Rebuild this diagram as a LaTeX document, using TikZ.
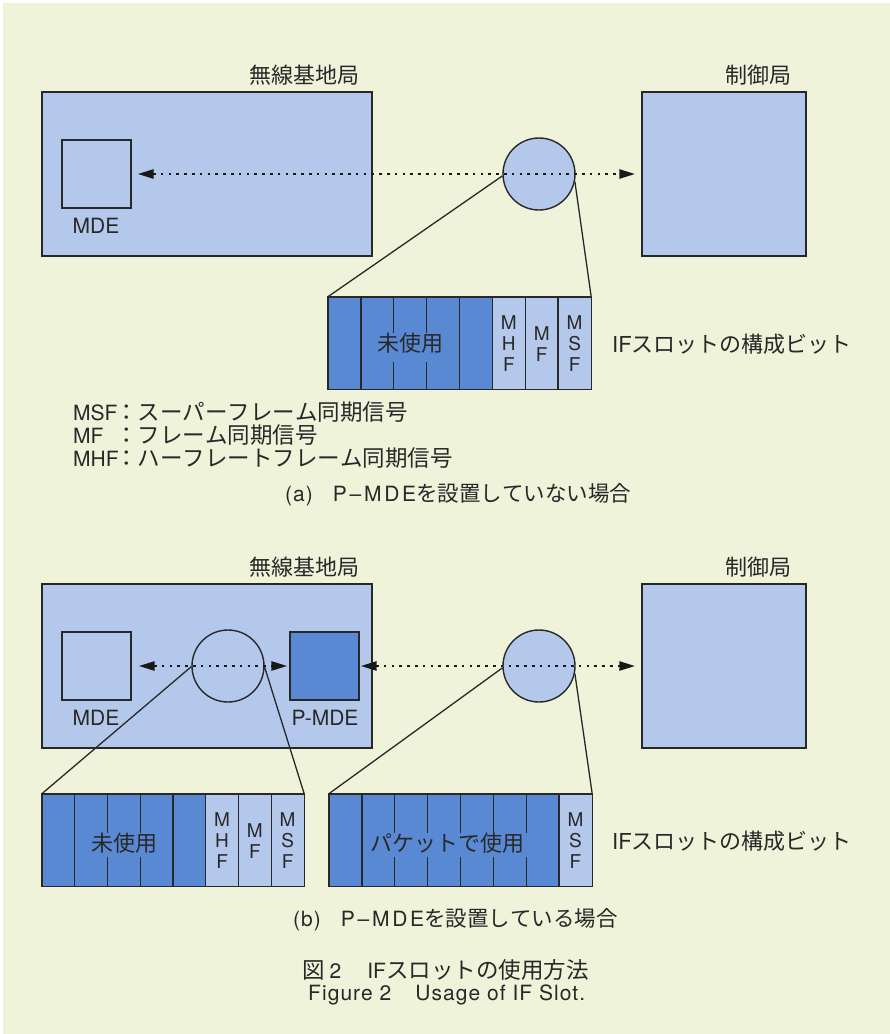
\documentclass[tikz,border=0pt]{standalone}
\usepackage{fontspec}
\setmainfont{TeX Gyre Heros}
\newfontfamily\jp[Kerning=Off]{Noto Sans CJK JP}
\newfontfamily\spc[LetterSpace=13]{TeX Gyre Heros}
\newfontfamily\spl[LetterSpace=5]{TeX Gyre Heros}
\usetikzlibrary{arrows.meta}
\definecolor{bg}{RGB}{238,243,218}
\definecolor{lblue}{RGB}{180,200,236}
\definecolor{dblue}{RGB}{90,137,212}
\definecolor{ink}{RGB}{40,40,40}
\definecolor{dark}{RGB}{25,25,25}
\tikzset{
  bigbox/.style={draw=ink, line width=1.5pt, fill=lblue, inner sep=0pt},
  smallbox/.style={draw=ink, line width=1.3pt, fill=lblue, inner sep=0pt, minimum width=69pt, minimum height=68pt},
  circ/.style={circle, draw=ink, line width=1.4pt, fill=lblue, minimum size=72pt, inner sep=0pt},
  dotline/.style={draw=dark, line width=2.6pt, dash pattern=on 2.6pt off 5.2pt},
  twoarr/.style={{Triangle[length=16pt,width=9pt]}-{Triangle[length=16pt,width=9pt]}},
  cutline/.style={draw=ink, line width=1.3pt},
  barnode/.style={fill=dblue, inner sep=0pt, minimum height=92pt},
  barline/.style={draw=ink, line width=1.4pt},
  lbl/.style={font=\fontsize{22}{26}\selectfont, text=ink, inner sep=0pt},
  latin/.style={font=\fontsize{21}{25}\selectfont, text=ink, inner sep=0pt},
  vlet/.style={font=\fontsize{19}{21}\selectfont, text=ink, inner sep=0pt, align=center},
  leg/.style={font=\fontsize{21}{25}\selectfont, text=ink, inner sep=0pt, anchor=west},
  captext/.style={font=\fontsize{21}{25}\selectfont, text=ink, inner sep=0pt},
}
\newcommand{\legjp}[1]{{\jp\fontsize{22.5}{25}\selectfont #1}}
\newcommand{\capjp}[1]{{\jp\fontsize{21.5}{25}\selectfont #1}}
\begin{document}
\begin{tikzpicture}[x=1pt,y=-1pt]
\useasboundingbox (0,0) rectangle (890,1034);
\fill[white] (0,0) rectangle (890,1034);
\fill[bg] (3,3) rectangle (890,1034);

% ================= (a) =================
\node[lbl] (lblBSa) at (304,75) {\jp 無線基地局};
\node[lbl] (lblCSa) at (758,75) {\jp 制御局};
\node[bigbox, minimum width=330pt, minimum height=164pt] (bsA) at (207,174) {};
\node[bigbox, minimum width=164pt, minimum height=164pt] (csA) at (724,174) {};
\node[smallbox] (mdeA) at (96.5,174) {};
\node[latin] (mdeAl) at (96,226) {MDE};
\node[circ] (cA) at (539,174) {};
\draw[dotline, twoarr, shorten <=6pt, shorten >=6pt] (mdeA.east) -- (csA.west);

% slot bar (a)
\node[barnode, minimum width=263pt] (barA) at (459.5,343) {};
\fill[lblue] (492.4,297) rectangle (591,389);
\draw[barline] (barA.north west) rectangle (barA.south east);
\foreach \k in {1,4,5,6,7}{
  \draw[barline] (328+\k*32.875,297) -- (328+\k*32.875,389);
}
\foreach \k in {2,3}{
  \draw[barline] (328+\k*32.875,297) -- (328+\k*32.875,333);
  \draw[barline] (328+\k*32.875,362) -- (328+\k*32.875,389);
}
\node[lbl] (unusedA) at (410,343) {\jp 未使用};
\node[vlet] (mhfA) at (508.8,344) {M\\H\\F};
\node[vlet] (mfA) at (541.7,344) {M\\F};
\node[vlet] (msfA) at (574.6,344) {M\\S\\F};
\node[lbl, anchor=west] (ifA) at (612,344) {IF{\jp スロットの構成ビット}};
\draw[cutline] (cA.183) -- (barA.north west);
\draw[cutline] (cA.-12) -- (barA.north east);

% legend
\node[leg] (leg1) at (73,412) {\makebox[42pt][l]{MSF}\legjp{：スーパーフレーム同期信号}};
\node[leg] (leg2) at (73,435) {\makebox[42pt][l]{MF}\legjp{：フレーム同期信号}};
\node[leg] (leg3) at (73,458) {\makebox[42pt][l]{MHF}\legjp{：ハーフレートフレーム同期信号}};
\node[captext, anchor=west] (capA) at (285,495) {{\spl (a)}\hspace{20pt}{\spc P–MDE}\capjp{を設置していない場合}};

% ================= (b) =================
\node[lbl] (lblBSb) at (304,567) {\jp 無線基地局};
\node[lbl] (lblCSb) at (758,567) {\jp 制御局};
\node[bigbox, minimum width=330pt, minimum height=164pt] (bsB) at (207,666) {};
\node[bigbox, minimum width=164pt, minimum height=164pt] (csB) at (724,666) {};
\node[smallbox] (mdeB) at (96.5,666) {};
\node[latin] (mdeBl) at (96,718) {MDE};
\node[smallbox, fill=dblue] (pmde) at (324.5,666) {};
\node[latin] (pmdel) at (325,718) {P-MDE};
\node[circ] (cB1) at (228,666) {};
\node[circ] (cB2) at (539,666) {};
\draw[dotline, twoarr, shorten <=7pt, shorten >=2pt] (mdeB.east) -- (pmde.west);
\draw[dotline, twoarr, shorten <=1pt, shorten >=6pt] (pmde.east) -- (csB.west);

% slot bar (b) left
\node[barnode, minimum width=262pt] (barB1) at (173,840) {};
\fill[lblue] (205.75,794) rectangle (304,886);
\draw[barline] (barB1.north west) rectangle (barB1.south east);
\foreach \k in {1,4,5,6,7}{
  \draw[barline] (42+\k*32.75,794) -- (42+\k*32.75,886);
}
\foreach \k in {2,3}{
  \draw[barline] (42+\k*32.75,794) -- (42+\k*32.75,833);
  \draw[barline] (42+\k*32.75,857) -- (42+\k*32.75,886);
}
\node[lbl] (unusedB) at (124,843) {\jp 未使用};
\node[vlet] (mhfB) at (222.1,841) {M\\H\\F};
\node[vlet] (mfB) at (254.9,841) {M\\F};
\node[vlet] (msfB) at (287.6,841) {M\\S\\F};

% slot bar (b) right
\node[barnode, minimum width=263pt] (barB2) at (460.5,840) {};
\fill[lblue] (559.1,794) rectangle (592,886);
\draw[barline] (barB2.north west) rectangle (barB2.south east);
\foreach \k in {1,7}{
  \draw[barline] (329+\k*32.875,794) -- (329+\k*32.875,886);
}
\foreach \k in {2,3,4,5,6}{
  \draw[barline] (329+\k*32.875,794) -- (329+\k*32.875,833);
  \draw[barline] (329+\k*32.875,857) -- (329+\k*32.875,886);
}
\node[lbl] (pktB) at (447,843) {\jp パケットで使用};
\node[vlet] (msfB2) at (575.5,841) {M\\S\\F};
\node[lbl, anchor=west] (ifB) at (612,841) {IF{\jp スロットの構成ビット}};

\draw[cutline] (cB1.181) -- (barB1.north west);
\draw[cutline] (cB1.-2) -- (barB1.north east);
\draw[cutline] (cB2.183) -- (barB2.north west);
\draw[cutline] (cB2.-12) -- (barB2.north east);

\node[captext, anchor=west] (capB) at (293,920) {{\spl (b)}\hspace{20pt}{\spc P–MDE}\capjp{を設置している場合}};

% figure caption
\node[captext, anchor=west] (fig1) at (302,970) {{\jp\fontsize{22.5}{26}\selectfont 図}\hspace{5pt}2\hspace{26pt}IF{\jp\fontsize{22.5}{26}\selectfont スロットの使用方法}};
\node[captext, anchor=west] (fig2) at (308,995) {{\spl Figure 2}\hspace{24pt}{\spl Usage of IF Slot.}};
\end{tikzpicture}
\end{document}
